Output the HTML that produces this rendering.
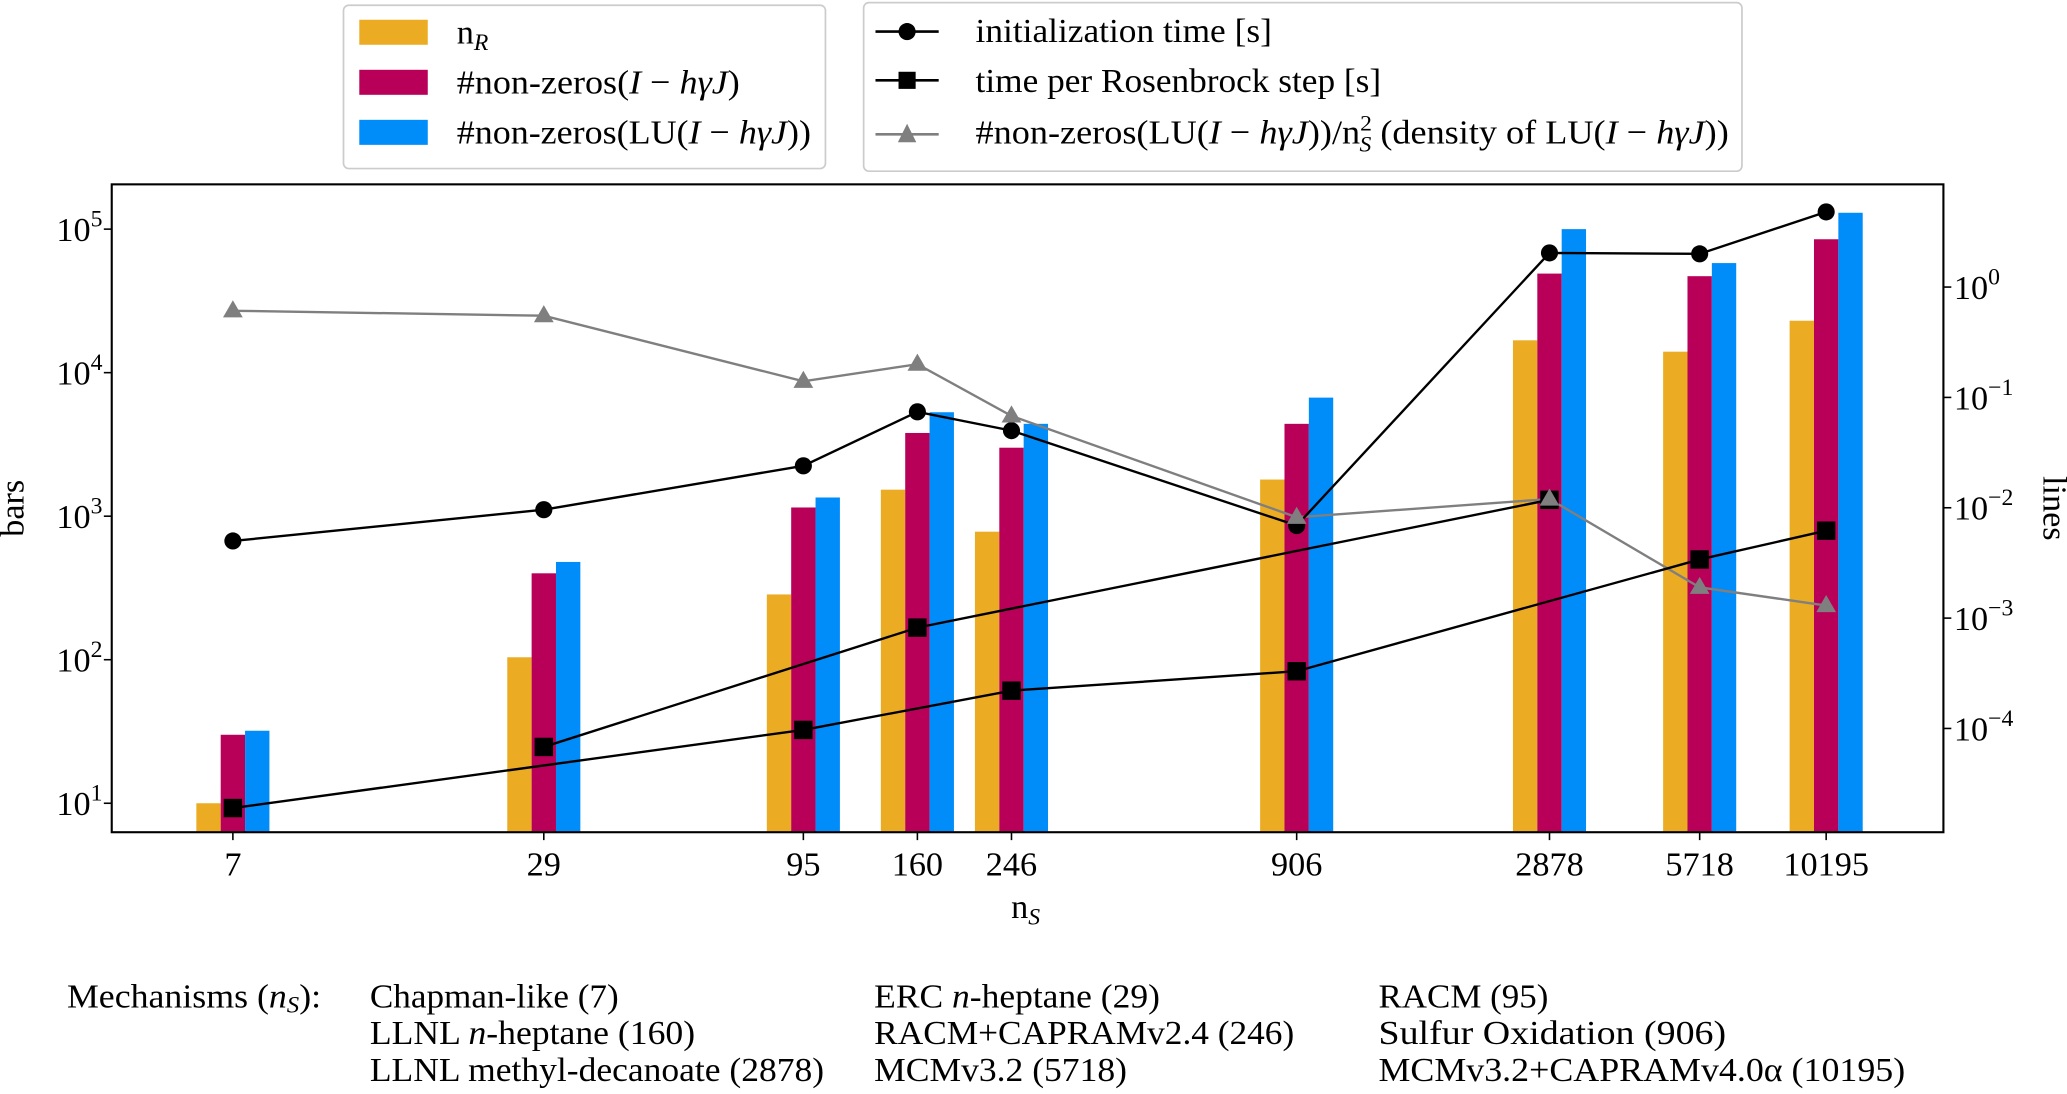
<!DOCTYPE html>
<html><head><meta charset="utf-8"><style>
html,body{margin:0;padding:0;background:#fff}
svg, svg text{font-family:"Liberation Serif","DejaVu Serif",serif}
</style></head><body>
<svg id="chart" width="2067" height="1089" viewBox="0 0 1568 827" xmlns="http://www.w3.org/2000/svg" font-family="Liberation Serif, serif">
<g id="plot"></g>
<g>
<rect x="260" y="4" width="366" height="124" rx="4" fill="#fff" stroke="#ccc" stroke-width="1.3"/>
<rect x="272" y="15" width="52" height="19" fill="#EBAC23"/>
<text x="346" y="33" font-size="26">n<tspan font-style="italic" font-size="18" dy="5">R</tspan></text>
<rect x="272" y="53" width="52" height="19" fill="#B80058"/>
<text x="346" y="71" font-size="26" textLength="215" lengthAdjust="spacingAndGlyphs">#non-zeros(<tspan font-style="italic">I</tspan> − <tspan font-style="italic">hγJ</tspan>)</text>
<rect x="272" y="91" width="52" height="19" fill="#008CF9"/>
<text x="346" y="109" font-size="26" textLength="269" lengthAdjust="spacingAndGlyphs">#non-zeros(LU(<tspan font-style="italic">I</tspan> − <tspan font-style="italic">hγJ</tspan>))</text>
</g>
<g>
<rect x="655" y="2" width="667" height="128" rx="4" fill="#fff" stroke="#ccc" stroke-width="1.3"/>
<line x1="664" y1="24" x2="712" y2="24" stroke="#000" stroke-width="2"/><circle cx="688" cy="24" r="6.5" fill="#000"/>
<text x="740" y="32" font-size="26" textLength="225" lengthAdjust="spacingAndGlyphs">initialization time [s]</text>
<line x1="664" y1="61" x2="712" y2="61" stroke="#000" stroke-width="2"/><rect x="681.5" y="54.5" width="13" height="13" fill="#000"/>
<text x="740" y="70" font-size="26" textLength="308" lengthAdjust="spacingAndGlyphs">time per Rosenbrock step [s]</text>
<line x1="664" y1="102" x2="712" y2="102" stroke="#7f7f7f" stroke-width="2"/><polygon points="688,94 695,108 681,108" fill="#7f7f7f"/>
<text x="740" y="109" font-size="26" textLength="572" lengthAdjust="spacingAndGlyphs">#non-zeros(LU(<tspan font-style="italic">I</tspan> − <tspan font-style="italic">hγJ</tspan>))/n<tspan font-size="17" dy="-10">2</tspan><tspan font-size="17" font-style="italic" dx="-9" dy="16">S</tspan><tspan dy="-6"> (density of LU(</tspan><tspan font-style="italic">I</tspan> − <tspan font-style="italic">hγJ</tspan>))</text>
</g>
<g font-size="26">
<text x="50" y="765" textLength="193" lengthAdjust="spacingAndGlyphs">Mechanisms (<tspan font-style="italic">n<tspan font-size="18" dy="4">S</tspan></tspan><tspan dy="-4">):</tspan></text>
<text x="280" y="765" textLength="189" lengthAdjust="spacingAndGlyphs">Chapman-like (7)</text>
<text x="663" y="765" textLength="217" lengthAdjust="spacingAndGlyphs">ERC <tspan font-style="italic">n</tspan>-heptane (29)</text>
<text x="1046" y="765" textLength="129" lengthAdjust="spacingAndGlyphs">RACM (95)</text>
<text x="280" y="793" textLength="247" lengthAdjust="spacingAndGlyphs">LLNL <tspan font-style="italic">n</tspan>-heptane (160)</text>
<text x="663" y="793" textLength="319" lengthAdjust="spacingAndGlyphs">RACM+CAPRAMv2.4 (246)</text>
<text x="1046" y="793" textLength="264" lengthAdjust="spacingAndGlyphs">Sulfur Oxidation (906)</text>
<text x="280" y="821" textLength="345" lengthAdjust="spacingAndGlyphs">LLNL methyl-decanoate (2878)</text>
<text x="663" y="821" textLength="192" lengthAdjust="spacingAndGlyphs">MCMv3.2 (5718)</text>
<text x="1046" y="821" textLength="400" lengthAdjust="spacingAndGlyphs">MCMv3.2+CAPRAMv4.0α (10195)</text>
</g>
</svg>
<script>
const categories = [7, 29, 95, 160, 246, 906, 2878, 5718, 10195];
const nR = [10, 104, 285, 1530, 780, 1800, 16800, 14000, 23000];
const nnz = [30, 400, 1150, 3800, 3000, 4400, 49000, 47000, 85000];
const nnzLU = [32, 480, 1350, 5300, 4400, 6700, 100000, 58000, 130000];
const initTime = [0.005, 0.0096, 0.024, 0.074, 0.05, 0.0069, 2.04, 2.0, 4.8];
const stepTime = [0.000019, 0.000068, 0.000097, 0.00082, 0.00022, 0.00033, 0.0118, 0.0034, 0.0062];
const stepOrderA = [1, 3, 6];
const stepOrderB = [0, 2, 4, 5, 7, 8];
const density = [0.61, 0.55, 0.14, 0.2, 0.068, 0.0082, 0.012, 0.0019, 0.0013];
const leftTicks = [1, 2, 3, 4, 5];
const rightTicks = [0, -1, -2, -3, -4];

const NS = 'http://www.w3.org/2000/svg';
const g = document.getElementById('plot');
const L = 84, R = 1475, T = 140, B = 632;
const xS = v => 176 + (Math.log10(v) - Math.log10(7)) * 382.5;
const yL = v => 610 - (Math.log10(v) - 1) * 109;
const yR = v => 218 - Math.log10(v) * 83.8;
function mk(tag, attrs) { const e = document.createElementNS(NS, tag); for (const k in attrs) e.setAttribute(k, attrs[k]); g.appendChild(e); return e; }

const bw = 18.5;
const barSeries = [[nR, '#EBAC23', 'bar-nr'], [nnz, '#B80058', 'bar-nnz'], [nnzLU, '#008CF9', 'bar-lu']];
barSeries.forEach((s, si) => {
  s[0].forEach((v, i) => {
    const cx = xS(categories[i]) + (si - 1) * bw;
    const y = yL(v);
    const r = mk('rect', { x: cx - bw / 2, y: y, width: bw, height: B - y, fill: s[1] });
    
    
  });
});

function poly(idx, vals, color, name) {
  const p = mk('polyline', { points: idx.map(i => xS(categories[i]) + ',' + yR(vals[i])).join(' '), fill: 'none', stroke: color, 'stroke-width': 1.8 });
  
  
}
const all = categories.map((_, i) => i);
poly(all, density, '#7f7f7f', 'density-line');
poly(all, initTime, '#000', 'init-time-line');
poly(stepOrderA, stepTime, '#000', 'step-time-line');
poly(stepOrderB, stepTime, '#000', 'step-time-line');
categories.forEach((c, i) => {
  const x = xS(c);
  const ci = mk('circle', { cx: x, cy: yR(initTime[i]), r: 6.5, fill: '#000' });
  
  
  const sq = mk('rect', { x: x - 7, y: yR(stepTime[i]) - 7, width: 14, height: 14, fill: '#000' });
  
  
  const y = yR(density[i]);
  const tr = mk('polygon', { points: `${x},${y - 8} ${x + 7.5},${y + 5} ${x - 7.5},${y + 5}`, fill: '#7f7f7f' });
  
  
});

const fr = mk('rect', { x: L, y: T, width: R - L, height: B - T, fill: 'none', stroke: '#000', 'stroke-width': 1.6 });



categories.forEach(c => {
  const x = xS(c);
  mk('line', { x1: x, y1: B, x2: x, y2: B + 6, stroke: '#000', 'stroke-width': 1.2 });
  const t = mk('text', { x: x, y: B + 33, 'font-size': 26, 'text-anchor': 'middle' });
  t.textContent = c;
  
  
});
leftTicks.forEach(e => {
  const y = yL(Math.pow(10, e));
  mk('line', { x1: L - 6, y1: y, x2: L, y2: y, stroke: '#000', 'stroke-width': 1.2 });
  const t = mk('text', { x: 42, y: y + 9, 'font-size': 26 });
  t.innerHTML = '10<tspan font-size="18" dy="-11">' + e + '</tspan>';
  
  
});
rightTicks.forEach(e => {
  const y = yR(Math.pow(10, e));
  mk('line', { x1: R, y1: y, x2: R + 6, y2: y, stroke: '#000', 'stroke-width': 1.2 });
  const t = mk('text', { x: 1483, y: y + 9, 'font-size': 26 });
  t.innerHTML = '10<tspan font-size="18" dy="-11">' + (e < 0 ? '−' + (-e) : e) + '</tspan>';
  
  
});
const yl = mk('text', { x: 0, y: 0, 'font-size': 26, 'text-anchor': 'middle', transform: 'translate(17,386) rotate(-90)' });
yl.textContent = 'bars';


const yr = mk('text', { x: 0, y: 0, 'font-size': 26, 'text-anchor': 'middle', transform: 'translate(1551,386) rotate(90)' });
yr.textContent = 'lines';


const xl = mk('text', { x: 767, y: 697, 'font-size': 26 });
xl.innerHTML = 'n<tspan font-size="18" font-style="italic" dy="5">S</tspan>';


</script>
</body></html>
